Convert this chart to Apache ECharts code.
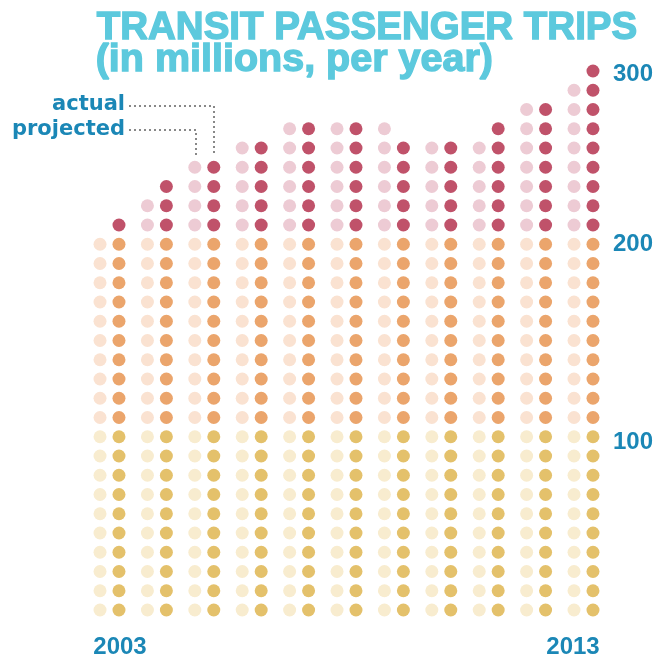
<!DOCTYPE html>
<html>
<head>
<meta charset="utf-8">
<script src="https://cdn.jsdelivr.net/npm/echarts@6/dist/echarts.min.js"></script>
<style>
html,body{margin:0;padding:0;background:#fff;}
#chart{width:662px;height:658px;}
</style>
</head>
<body>
<div id="chart"></div>
<script>
// ---- data (millions of trips per year; one dot = 10 million) ----
const years = ['2003','2004','2005','2006','2007','2008','2009','2010','2011','2012','2013'];
const projected = [200, 220, 240, 250, 260, 260, 260, 250, 250, 270, 280];
const actual    = [210, 230, 240, 250, 260, 260, 250, 250, 260, 270, 290];
const dotUnit = 10;
const tickValues = [100, 200, 290];
const tickLabels = ['100', '200', '300'];
const yearLabelIdx = [0, 10];
const legendLabels = ['actual', 'projected'];
const titleLines = ['TRANSIT PASSENGER TRIPS', '(in millions, per year)'];

// ---- styles ----
const bandTop = [100, 200, Infinity];
const actualColors    = ['#E4C16B', '#EBA56C', '#C0526A'];
const projectedColors = ['#F8ECCF', '#FAE2D1', '#EDCBD4'];
const blue = '#1B87B6';
const cyan = '#5CC9DD';
const tickPadTop = [12, 0, 6];

function bandIndex(v){ for (let b = 0; b < bandTop.length; b++) if (v <= bandTop[b]) return b; return bandTop.length-1; }

function dots(values, offset, colors){
  const out = [];
  values.forEach((v, i) => {
    for (let k = dotUnit; k <= v; k += dotUnit) {
      out.push({ value: [i + offset, k], itemStyle: { color: colors[bandIndex(k)], opacity: 1 } });
    }
  });
  return out;
}

const chart = echarts.init(document.getElementById('chart'), null, {renderer:'canvas'});

const gridLeft = 62.1, gridRightEdge = 611.94, gridTop = 51.75, gridBottomEdge = 629.25;
const numFont = { fontFamily: 'Liberation Sans', fontWeight: 'bold', fontSize: 24, color: blue };
const yRich = {};
tickPadTop.forEach((p, j) => { yRich['t' + j] = Object.assign({}, numFont, { padding: [p, 0, 0, 0] }); });

chart.setOption({
  animation: false,
  backgroundColor: '#ffffff',
  grid: { left: gridLeft, top: gridTop, width: gridRightEdge - gridLeft, height: gridBottomEdge - gridTop, containLabel: false, outerBoundsMode: 'none' },
  xAxis: {
    type: 'value', min: -1, max: 10.6, interval: 1,
    axisLine: {show:false}, axisTick: {show:false}, splitLine: {show:false},
    axisLabel: {
      margin: 6, showMinLabel: true, showMaxLabel: false,
      formatter: function(v){
        const i = Math.round(v);
        if (i === yearLabelIdx[0]) return '{a|' + years[i] + '}';
        if (i === yearLabelIdx[1]) return '{b|' + years[i] + '}';
        return '';
      },
      rich: {
        a: Object.assign({}, numFont, { padding: [0,0,0,21] }),
        b: Object.assign({}, numFont, { padding: [0,21,0,0] })
      }
    }
  },
  yAxis: {
    type: 'value', min: 0, max: 300, interval: 10, position: 'right',
    axisLine: {show:false}, axisTick: {show:false}, splitLine: {show:false},
    axisLabel: Object.assign({
      margin: 1, align: 'left',
      formatter: function(v){
        const j = tickValues.indexOf(v);
        return j >= 0 ? '{t' + j + '|' + tickLabels[j] + '}' : '';
      },
      rich: yRich
    }, numFont)
  },
  series: [
    { type: 'scatter', symbol: 'circle', symbolSize: 13, itemStyle: {opacity: 1}, data: dots(projected, -0.2, projectedColors), silent: true },
    { type: 'scatter', symbol: 'circle', symbolSize: 13, itemStyle: {opacity: 1}, data: dots(actual, 0.2, actualColors), silent: true }
  ],
  graphic: [
    { type: 'text', left: 96, top: 8, style: { text: titleLines[0], fontFamily: 'Liberation Sans', fontWeight: 900, fontSize: 38.5, fill: cyan, stroke: cyan, lineWidth: 1.4 } },
    { type: 'text', left: 95, top: 39, style: { text: titleLines[1], fontFamily: 'Liberation Sans', fontWeight: 900, fontSize: 39.5, fill: cyan, stroke: cyan, lineWidth: 1.4 } },
    { type: 'text', right: 662 - 125, top: 94, style: { text: legendLabels[0], fontFamily: 'DejaVu Sans', fontWeight: 'bold', fontSize: 21, fill: blue, align: 'right' } },
    { type: 'text', right: 662 - 125, top: 119, style: { text: legendLabels[1], fontFamily: 'DejaVu Sans', fontWeight: 'bold', fontSize: 21, fill: blue, align: 'right' } },
    { type: 'polyline', shape: { points: [[129,106],[214,106],[214,155]] }, style: { stroke: '#888', lineWidth: 2, lineDash: [2,3], fill: null } },
    { type: 'polyline', shape: { points: [[129,130],[196,130],[196,155]] }, style: { stroke: '#888', lineWidth: 2, lineDash: [2,3], fill: null } }
  ]
});
</script>
</body>
</html>
